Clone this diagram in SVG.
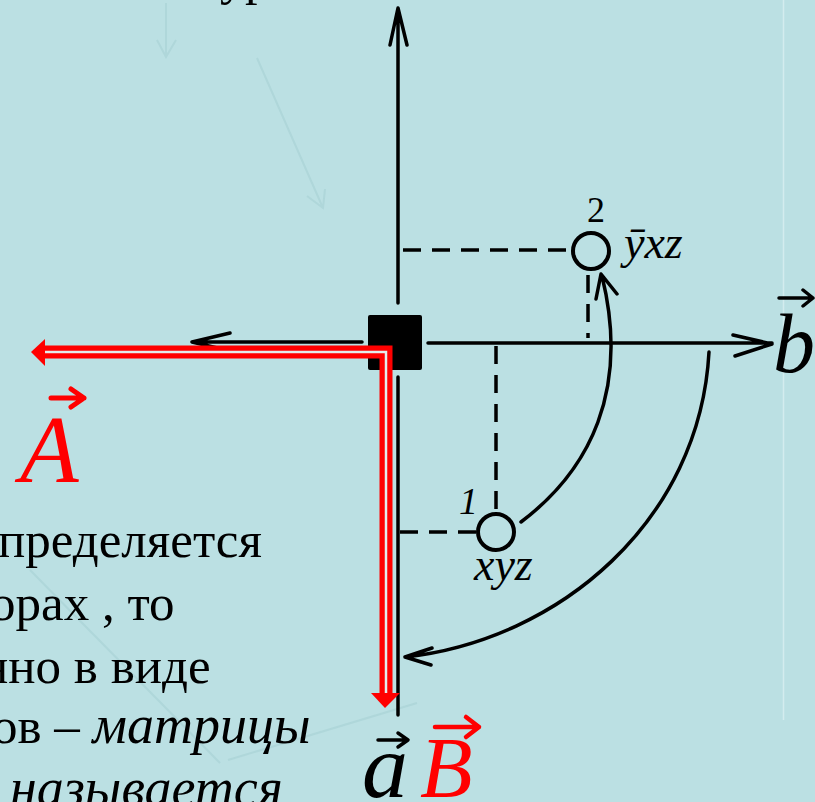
<svg xmlns="http://www.w3.org/2000/svg" width="815" height="802" viewBox="0 0 815 802">
<defs>
<style>
.ax{stroke:#000;stroke-width:3.5;fill:none;stroke-linecap:round;stroke-linejoin:round}
.dash{stroke:#000;stroke-width:3.5;fill:none;stroke-dasharray:18 11}
.faint{stroke:#A6D0D3;stroke-width:2;fill:none;opacity:0.6}
.rt{font-family:"Liberation Serif","Times New Roman",serif;fill:#000}
.it{font-style:italic}
.red{fill:#FF0000}
.rs{stroke:#FF0000;fill:none;stroke-linecap:round;stroke-linejoin:round}
.ks{stroke:#000;fill:none;stroke-linecap:round;stroke-linejoin:round}
</style>
</defs>
<rect width="815" height="802" fill="#BBE0E3"/>

<!-- faint background artefacts -->
<g id="faint">
<path class="faint" d="M166,3 V57 M157,40 L166,57 L176,40"/>
<path class="faint" d="M257,58 L323,208 M307,196 L323,208 L325,189"/>
<path class="faint" d="M30,570 L220,763 M228,760 L417,703"/>
<line x1="783.5" y1="0" x2="783.5" y2="720" stroke="#D3ECEE" stroke-width="1.5"/>
</g>

<text class="rt" x="220" y="-6" font-size="50">ур</text>

<!-- axes / connectors -->
<g id="connectors">
<path class="ax" d="M398,8 V303 M390,45 L398,8 L407,45"/>
<path class="ax" d="M398,377 V715"/>
<path class="ax" d="M428,343 H772 M733,335 L772,344 L735,356"/>
<path class="ax" d="M362,342 H192 M230,333 L192,342 L230,351"/>
<path class="dash" d="M403,250 H572"/>
<path class="dash" d="M588,275 V338"/>
<path class="dash" d="M496,346 V512"/>
<path class="dash" d="M400,532 H477"/>
<path class="ax" d="M521,522 C590,470 630,390 602,276 M596,299 L601,274 L617,294"/>
<path class="ax" d="M709,352 C700,520 560,640 405,657 M432,648 L405,657 L431,665"/>
</g>

<!-- nodes -->
<g id="origin">
<rect x="368" y="315" width="54" height="55" fill="#000" rx="2"/>
</g>
<g id="state1">
<circle cx="496" cy="532" r="18" fill="none" stroke="#000" stroke-width="4"/>
<text class="rt it" x="459" y="514" font-size="38">1</text>
<text class="rt it" x="474" y="580" font-size="46">xyz</text>
</g>
<g id="state2">
<circle cx="591" cy="251" r="18" fill="none" stroke="#000" stroke-width="4"/>
<text class="rt" x="596" y="222" font-size="36" text-anchor="middle">2</text>
<text class="rt it" x="624" y="258" font-size="46">ȳxz</text>
</g>

<!-- red vector arrows -->
<g id="red-arrows">
<path d="M45,352 H386 V693" stroke="#FF0000" stroke-width="13" fill="none" stroke-linejoin="miter"/>
<path d="M45,352 H386 V693" stroke="#E4ECEC" stroke-width="2.5" fill="none" stroke-linejoin="miter"/>
<polygon class="red" points="31,352 45,339 45,366"/>
<polygon class="red" points="385,708 371,693 400,693"/>
</g>

<!-- vector labels -->
<g id="label-b">
<text class="rt it" x="773" y="372" font-size="84">b</text>
<path class="ks" stroke-width="3.5" d="M779,298 H813 M803,290 L813,298 L803,306"/>
</g>
<g id="label-A">
<text class="rt it red" x="20" y="482" font-size="96">A</text>
<path class="rs" stroke-width="5" d="M51,398 H84 M71,389 L84,398 L71,407"/>
</g>
<g id="label-a">
<text class="rt it" x="362" y="797" font-size="92">a</text>
<path class="ks" stroke-width="3.5" d="M378,740 H408 M398,733 L408,740 L398,747"/>
</g>
<g id="label-B">
<text class="rt it red" x="420" y="797" font-size="86">B</text>
<path class="rs" stroke-width="4.5" d="M435,727 H479 M466,717 L479,727 L466,737"/>
</g>

<!-- body text -->
<g id="body-text" font-size="51">
<text class="rt" x="-2" y="557">пределяется</text>
<text class="rt" x="-10" y="620">орах , то</text>
<text class="rt" x="-19" y="683">нно в виде</text>
<text class="rt" x="-8" y="743">ов – <tspan class="it" font-size="54">матрицы</tspan></text>
<text class="rt it" x="10" y="806" font-size="54">называется</text>
</g>
</svg>
